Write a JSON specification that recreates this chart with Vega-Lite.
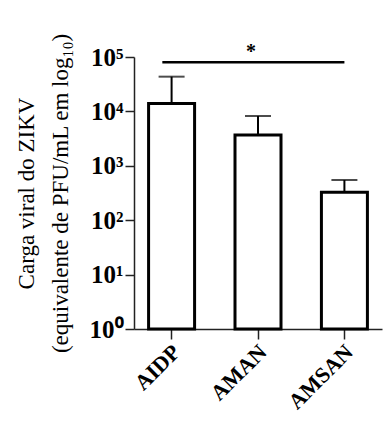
{
  "$schema": "https://vega.github.io/schema/vega-lite/v6.json",
  "autosize": "none",
  "width": 248,
  "height": 272,
  "padding": {"left": 134, "top": 57, "right": 3, "bottom": 106},
  "background": "white",
  "config": {"view": {"stroke": null}, "font": "Liberation Serif"},
  "datasets": {
    "bars": [
      {"group": "AIDP", "mean": 13900, "upper": 43500, "base": 1},
      {"group": "AMAN", "mean": 3680, "upper": 8230, "base": 1},
      {"group": "AMSAN", "mean": 326, "upper": 548, "base": 1}
    ],
    "sig": [
      {"from": "AIDP", "to": "AMSAN", "level": 80000, "label": "*"}
    ]
  },
  "layer": [
    {
      "data": {"name": "bars"},
      "mark": {"type": "rule", "stroke": "black", "strokeWidth": 2},
      "encoding": {
        "x": {"field": "group", "type": "nominal"},
        "y": {"field": "mean", "type": "quantitative"},
        "y2": {"field": "upper"}
      }
    },
    {
      "data": {"name": "bars"},
      "mark": {"type": "tick", "color": "black", "size": 26, "thickness": 2},
      "encoding": {
        "x": {"field": "group", "type": "nominal"},
        "y": {"field": "upper", "type": "quantitative"}
      }
    },
    {
      "data": {"name": "bars"},
      "mark": {"type": "bar", "fill": "white", "stroke": "black", "strokeWidth": 3, "width": 46},
      "encoding": {
        "x": {
          "field": "group", "type": "nominal", "sort": null,
          "scale": {"paddingInner": 0.37, "paddingOuter": 0.12},
          "axis": {
            "title": null,
            "domainColor": "#222", "domainWidth": 1.5,
            "tickColor": "#222", "tickWidth": 1.5, "tickSize": 10,
            "labelAngle": -45, "labelAlign": "right", "labelBaseline": "middle",
            "labelFont": "Liberation Serif", "labelFontWeight": "bold", "labelFontSize": 22,
            "labelColor": "black", "labelPadding": 9, "labelOffset": 5
          }
        },
        "y": {
          "field": "mean", "type": "quantitative",
          "scale": {"type": "log", "domain": [1, 100000], "nice": false},
          "axis": {
            "values": [1, 10, 100, 1000, 10000, 100000],
            "labelExpr": "'10' + ['⁰','¹','²','³','⁴','⁵'][round(log(datum.value)/LN10)]",
            "grid": false,
            "domainColor": "#222", "domainWidth": 1.5,
            "tickColor": "#222", "tickWidth": 1.5, "tickSize": 9,
            "labelFont": "Liberation Serif", "labelFontWeight": "bold", "labelFontSize": 25,
            "labelColor": "black", "labelPadding": 2,
            "title": ["Carga viral do ZIKV", "(equivalente de PFU/mL em log₁₀)"],
            "titleFont": "Liberation Serif", "titleFontWeight": "normal", "titleFontSize": 23,
            "titleColor": "black", "titleAngle": -90, "titleAlign": "center",
            "titleBaseline": "middle", "titleLineHeight": 34,
            "titleX": -108, "titleY": 136
          }
        },
        "y2": {"field": "base"}
      }
    },
    {
      "data": {"name": "sig"},
      "mark": {"type": "rule", "stroke": "black", "strokeWidth": 2.5, "clip": false},
      "encoding": {
        "x": {"field": "from", "type": "nominal", "bandPosition": 0.33},
        "x2": {"field": "to", "bandPosition": 0.5},
        "y": {"field": "level", "type": "quantitative"}
      }
    },
    {
      "data": {"name": "sig"},
      "mark": {"type": "text", "fontSize": 20, "fontWeight": "bold", "font": "Liberation Serif", "dy": -10, "dx": -7, "baseline": "middle", "clip": false},
      "encoding": {
        "x": {"datum": "AMAN", "type": "nominal"},
        "y": {"field": "level", "type": "quantitative"},
        "text": {"field": "label"}
      }
    }
  ]
}
